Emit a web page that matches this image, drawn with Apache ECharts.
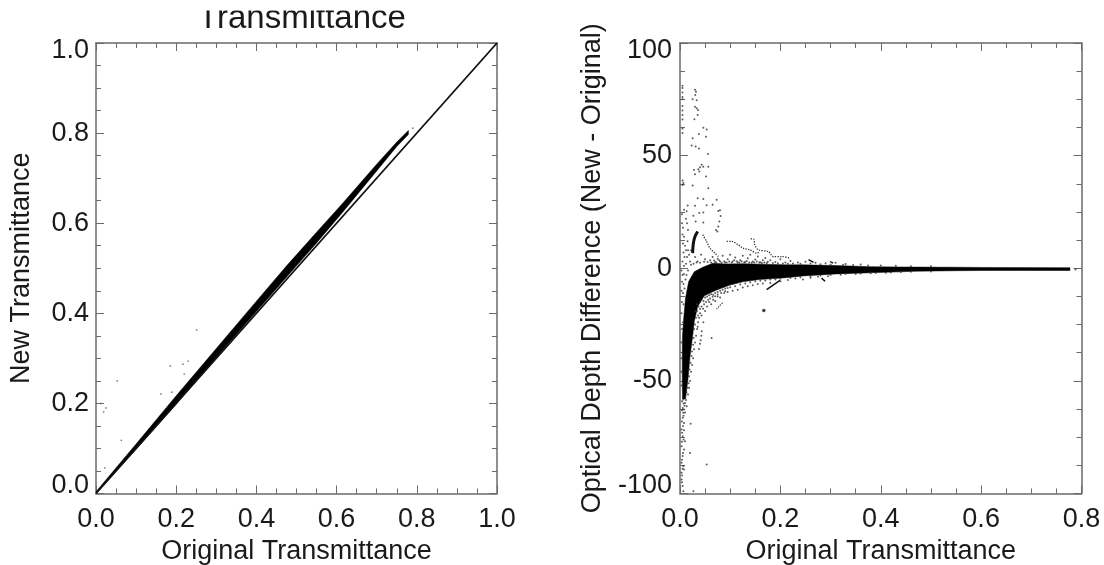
<!DOCTYPE html>
<html><head><meta charset="utf-8">
<style>html,body{margin:0;padding:0;background:#fff}#c{width:1104px;height:565px}</style>
<script src="https://cdn.jsdelivr.net/npm/echarts@6/dist/echarts.min.js"></script>
</head><body><div id="c"></div>
<script>
// ---------- left panel data ----------
const leftIdentity = [[0,0],[1,1]];
const leftBandX     = [0,0.1,0.2,0.3,0.4,0.477,0.55,0.613,0.7,0.75,0.779];
const leftBandUpper = [0.004,0.11,0.217,0.322,0.427,0.507,0.58,0.642,0.731,0.78,0.806];
const leftBandLower = [0,0.098,0.198,0.302,0.404,0.482,0.556,0.622,0.716,0.77,0.797];
const leftOutliers = [[0.251,0.363],[0.23,0.294],[0.217,0.287],[0.185,0.283],[0.22,0.265],[0.189,0.225],[0.162,0.221],[0.053,0.25],[0.025,0.19],[0.019,0.181],[0.012,0.2],[0.063,0.118],[0.022,0.057],[0.79,0.811]];
// ---------- right panel data ----------
const blobUpper = [[0.005,-58],[0.0045,-48],[0.0045,-38],[0.005,-30],[0.0075,-22],[0.011,-13.2],[0.0173,-5.9],[0.0285,-1.5],[0.0452,0.4],[0.0651,2.2],[0.0916,1.9],[0.125,2],[0.165,1.8],[0.211,1.5],[0.245,1.5],[0.312,1.2],[0.379,0.7],[0.438,0.55],[0.471,0.5],[0.551,0.45],[0.604,0.35],[0.777,0.25]];
const blobLower = [[0.777,-1],[0.604,-1],[0.551,-1.1],[0.471,-1.3],[0.438,-1.6],[0.379,-2],[0.312,-2.5],[0.245,-3.4],[0.211,-4.2],[0.158,-5],[0.125,-6],[0.0982,-7.6],[0.0717,-9.8],[0.0484,-12.2],[0.0353,-17],[0.0285,-23.5],[0.0253,-30],[0.02,-39],[0.016,-49],[0.011,-58]];
const upperScatter = [[0.005,81],[0.005,80],[0.005,78],[0.005,76],[0.005,75],[0.005,72],[0.005,70],[0.005,68],[0.005,66],[0.005,62],[0.005,60],[0.005,39],[0.005,37],
[0.0299,79.2],[0.0319,78.4],[0.0305,76.9],[0.0252,75],[0.0332,74.6],[0.0299,71.7],[0.0332,71],[0.0359,70.2],[0.0352,68],[0.0286,66.2],
[0.0465,62.4],[0.0531,61.6],[0.0518,58.4],[0.0378,59.6],[0.0252,57.7],[0.0232,54.5],[0.0312,54],[0.0378,53.2],[0.0558,50.7],
[0.0432,45.9],[0.0398,44.8],[0.0365,43.9],[0.0465,45.1],[0.0279,43.6],[0.0299,41.7],[0.0385,42.9],[0.0564,45.1],[0.0518,40.7],[0.0564,35.5],[0.0252,36.7],[0.0066,37.8],
[0.0352,31.1],[0.0465,30.7],[0.073,30.4],[0.0299,27.7],[0.0531,28],[0.0651,28.2],[0.0797,25.7],[0.0764,25.4],[0.0465,24.8],[0.0385,24.5],[0.0266,23.3],[0.0153,27.9],[0.0133,25.3],[0.081,23.2],[0.0784,20.7],[0.0764,18.5],[0.0717,17],[0.0744,16.3],[0.0465,20.3],[0.0312,20.7]];
const leftColumnFringe = [[0.004,20],[0.006,18],[0.005,15],[0.008,14],[0.006,11],[0.01,10],[0.012,8],[0.007,7],[0.009,5],[0.015,12],[0.016,8],[0.014,5],[0.018,6],[0.02,3],[0.005,3],[0.008,1],[0.012,2],[0.016,17],[0.014,20],[0.012,22],[0.004,24],[0.008,26],[0.022,8],[0.03,5],[0.035,3],[0.042,6],[0.05,4],
[0.003,-1],[0.005,-3],[0.008,-2.5],[0.004,-6],[0.007,-7],[0.011,-5],[0.003,-10],[0.006,-11],[0.009,-9],[0.013,-3],[0.016,-1],[0.022,1.5],[0.027,2],[0.033,2.6],[0.04,2.4],[0.048,2.9],[0.004,-15],[0.007,-16],[0.003,-20],[0.006,-24],[0.004,-27],[0.003,-33],[0.003,-40],[0.003,-46],[0.003,-52]];
const aboveBlobFringe = [[0.06,3.5],[0.065,5],[0.07,2.8],[0.075,4.2],[0.08,3],[0.085,5.5],[0.09,2.5],[0.095,4],[0.1,6],[0.105,3],[0.11,4.8],[0.115,2.6],[0.12,3.6],[0.125,5.5],[0.13,2.8],[0.135,4.4],[0.14,6],[0.145,3],[0.15,3.9],[0.155,5.2],[0.16,2.7],[0.165,3.6],[0.17,4.6],[0.175,2.9],[0.18,3.5],[0.19,2.8],[0.2,4],[0.21,2.6],[0.22,3.2],[0.235,2.6],[0.25,2.9],[0.27,2.4],[0.29,2.2],[0.31,2.4],[0.33,1.9],[0.36,1.7],
[0.055,2.8],[0.062,2.6],[0.068,3.4],[0.072,2.5],[0.078,3.5],[0.083,2.4],[0.088,3.1],[0.093,2.6],[0.098,3],[0.103,2.5],[0.108,3.6],[0.113,3.1],[0.118,2.5],[0.123,3],[0.128,2.5],[0.133,3.2],[0.138,2.5],[0.143,2.4],[0.148,2.6],[0.153,3],[0.158,2.5],[0.163,2.3],[0.168,2.5],[0.173,2.3],[0.185,2.3],[0.195,2.2],[0.205,2.1],[0.215,2],[0.225,2.1],[0.24,2],[0.26,2.1],[0.28,1.8],[0.3,1.7],[0.325,1.5],[0.345,1.4],[0.375,1.2],[0.4,1.2],[0.43,1.1],[0.46,0.9],[0.5,0.9]];
const belowBlobFringe = [[0.032,-30],[0.034,-27],[0.036,-24],[0.03,-33],[0.028,-36],[0.026,-40],[0.024,-43],[0.022,-46],[0.02,-50],[0.018,-53],[0.016,-56],[0.038,-22],[0.04,-20],[0.043,-21],[0.046,-18],[0.05,-19],[0.054,-17],[0.058,-15],[0.062,-16],[0.066,-14],[0.07,-14.5],[0.075,-12.5],[0.08,-13],[0.088,-11],[0.095,-10.5],[0.105,-10],[0.115,-9.5],[0.125,-8.5],[0.135,-8],[0.145,-7.6],[0.155,-7],[0.165,-6.8],[0.18,-6.5],[0.2,-5.8],[0.215,-5.2],[0.23,-4.6],[0.245,-5],[0.26,-4.2],[0.275,-3.8],[0.295,-3.5],[0.32,-2.9],[0.35,-2.6],[0.38,-2.2],[0.41,-2],[0.44,-1.7],
[0.0432,-28],[0.0425,-30],[0.0412,-32],[0.0398,-33.5],[0.0378,-35.8],[0.0352,-26],[0.0465,-24],[0.063,-31],[0.788,-0.5],
[0.03,-25],[0.032,-22],[0.034,-19],[0.037,-17],[0.04,-15],[0.043,-14],[0.047,-14.5],[0.05,-13],[0.054,-12.5],[0.058,-12],[0.062,-11.5],[0.066,-11.8],[0.07,-11],[0.075,-10.5],[0.08,-10],[0.085,-9.5],[0.09,-9],[0.095,-8.8],[0.1,-8.4],[0.11,-8],[0.12,-7.2],[0.13,-6.8],[0.14,-6.2],[0.15,-5.8],[0.16,-5.6],[0.17,-5.4],[0.18,-5],[0.19,-5],[0.2,-4.7],[0.22,-4.3],[0.24,-4],[0.26,-3.6],[0.28,-3.2],[0.3,-3],[0.33,-2.6],[0.36,-2.3],[0.39,-2.1],[0.42,-1.9],[0.46,-1.6],[0.5,-1.4],
[0.028,-27],[0.027,-31],[0.026,-34],[0.024,-37],[0.023,-39],[0.021,-42],[0.019,-45],[0.018,-48],[0.017,-51],[0.015,-53],[0.013,-55],[0.031,-19],[0.034,-16],[0.036,-21],[0.04,-18],[0.043,-17],[0.048,-16],[0.052,-15],[0.056,-14],[0.06,-13.4],[0.065,-12.6],[0.07,-12.4],[0.075,-11.6],[0.082,-11],[0.09,-10.2]];
const tailScatter = [[0.0066,-58.3],[0.01,-59.8],[0.0053,-62],[0.008,-62.7],[0.0133,-61.3],[0.0066,-64.2],[0.0053,-66.4],[0.008,-68.7],[0.0033,-71.6],[0.008,-71.9],[0.0053,-74.6],[0.01,-76.8],[0.0033,-79],[0.008,-80.5],[0.0053,-83.4],[0.0033,-86.4],[0.0066,-87.9],[0.0033,-90.8],[0.008,-89.4],[0.0033,-93.8],[0.0053,-96.7],[0.0066,-99],[0.0212,-69],[0.0199,-82],[0.0531,-87.1],[0.0266,-99],
[0.004,-59],[0.007,-60],[0.009,-61],[0.012,-58.5],[0.004,-63],[0.007,-65.5],[0.01,-64],[0.004,-68],[0.006,-70],[0.004,-73],[0.007,-76],[0.004,-77],[0.006,-82],[0.004,-85],[0.005,-89],[0.004,-92],[0.004,-95]];
const darkArc = [[0.0352,16.3],[0.0299,14.1],[0.0266,11.1],[0.0252,6.7]];
const thinArcA = [[0.0452,14.9],[0.0531,11.9],[0.0598,8.9],[0.0697,6.7],[0.0764,5.2]];
const thinArcB = [[0.093,11.9],[0.103,11.9],[0.116,10.4],[0.126,8.9],[0.139,8.2],[0.153,6.7],[0.159,7.4]];
const thinArcC = [[0.141,13.1],[0.147,12.9],[0.149,10.4],[0.156,8.2],[0.176,7.4],[0.186,5.2],[0.203,5.2],[0.219,4.5]];
const thinArcD = [[0.256,3.8],[0.266,2.6]];
const thinArcE = [[0.299,3],[0.305,2.3]];
const lowArcA = [[0.1726,-9.5],[0.1992,-5.4]];
const lowArcB = [[0.282,-4.4],[0.289,-5.8]];
const lowArcC = [[0.073,-18.1],[0.086,-15]];
const isolatedDot = [[0.167,-18.8]];
// ---------- tick labels / text ----------
const titleText = 'Transmittance';
const xName = 'Original Transmittance';
const yNameLeft = 'New Transmittance';
const yNameRight = 'Optical Depth Difference (New - Original)';

const FONT = '"Liberation Sans", Arial, sans-serif';
const INK = '#1a1a1a', AXIS = '#6a6a6a', FS = 27;

function axisBase(extra){
  return Object.assign({
    type:'value', splitLine:{show:false}, splitNumber:4,
    axisLine:{show:true,onZero:false,lineStyle:{color:AXIS,width:1.5}},
    axisTick:{show:true,inside:true,length:8,lineStyle:{color:AXIS,width:1}},
    minorTick:{show:true,splitNumber:4,length:5,lineStyle:{color:AXIS,width:1}},
    nameTextStyle:{color:INK,fontFamily:FONT,fontSize:FS},
    nameLocation:'middle'
  },extra);
}
function labels(extra){return Object.assign({show:true,color:INK,fontFamily:FONT,fontSize:FS},extra);}
function ylabels(extra){return labels(Object.assign({lineHeight:16,verticalAlignMaxLabel:'top',verticalAlignMinLabel:'bottom'},extra));}
function polySeries(points,x,y){
  return {type:'custom',xAxisIndex:x,yAxisIndex:y,data:points,clip:true,silent:true,
    renderItem(params,api){
      if(params.dataIndex!==0) return null;
      return {type:'polygon',shape:{points:points.map(p=>api.coord(p))},style:{fill:'#000',stroke:'#000',lineWidth:0.5}};
    }};
}
function dots(data,size,color){return {type:'scatter',xAxisIndex:2,yAxisIndex:2,data,symbolSize:size||2,itemStyle:{color:color||'#333'},silent:true};}
function curve(data,w,type,color){return {type:'line',xAxisIndex:2,yAxisIndex:2,data,symbol:'none',smooth:0.3,lineStyle:{color:color||'#111',width:w||1,type:type||'solid'},silent:true};}

const leftBand = leftBandX.map((x,i)=>[x,leftBandUpper[i]]).concat(leftBandX.map((x,i)=>[x,leftBandLower[i]]).reverse());
const rightBlob = blobUpper.concat(blobLower);

const chart = echarts.init(document.getElementById('c'),null,{renderer:'canvas'});
const G1={left:96,right:607,top:43,bottom:71.5,outerBoundsMode:'none'}, G2={left:680,right:22.5,top:43,bottom:71.5,outerBoundsMode:'none'};
chart.setOption({
  animation:false, backgroundColor:'#fff',
  title:{text:titleText,left:297,top:-3,textAlign:'center',textStyle:{color:INK,fontFamily:FONT,fontSize:33,fontWeight:'normal'}},
  graphic:[{type:'rect',z:1000,left:170,top:0,shape:{width:260,height:10.5},style:{fill:'#fff'}}],
  grid:[G1,G2],
  xAxis:[
    axisBase({gridIndex:0,min:0,max:1,interval:0.2,position:'bottom',name:xName,nameGap:40,axisLabel:labels({margin:13,formatter:v=>v.toFixed(1)})}),
    axisBase({gridIndex:0,min:0,max:1,interval:0.2,position:'top',axisLabel:{show:false}}),
    axisBase({gridIndex:1,min:0,max:0.8,interval:0.2,position:'bottom',name:xName,nameGap:40,axisLabel:labels({margin:13,formatter:v=>v.toFixed(1)})}),
    axisBase({gridIndex:1,min:0,max:0.8,interval:0.2,position:'top',axisLabel:{show:false}})
  ],
  yAxis:[
    axisBase({gridIndex:0,min:0,max:1,interval:0.2,position:'left',name:yNameLeft,nameGap:61,axisLabel:ylabels({margin:7,formatter:v=>v.toFixed(1)})}),
    axisBase({gridIndex:0,min:0,max:1,interval:0.2,position:'right',axisLabel:{show:false}}),
    axisBase({gridIndex:1,min:-100,max:100,interval:50,position:'left',name:yNameRight,nameGap:74,axisLabel:ylabels({margin:8})}),
    axisBase({gridIndex:1,min:-100,max:100,interval:50,position:'right',axisLabel:{show:false}})
  ],
  series:[
    {type:'line',xAxisIndex:0,yAxisIndex:0,data:leftIdentity,symbol:'none',lineStyle:{color:'#111',width:1.8},silent:true},
    polySeries(leftBand,0,0),
    {type:'scatter',xAxisIndex:0,yAxisIndex:0,data:leftOutliers,symbolSize:1.8,itemStyle:{color:'#666'},silent:true},
    polySeries(rightBlob,2,2),
    dots(upperScatter),dots(leftColumnFringe),dots(aboveBlobFringe),dots(belowBlobFringe),dots(tailScatter),
    dots(isolatedDot,3.5,'#111'),
    curve(darkArc,3),curve(thinArcA,1.3,'dotted','#333'),curve(thinArcB,1.3,'dotted','#333'),curve(thinArcC,1.3,'dotted','#333'),curve(thinArcD,1.3),curve(thinArcE,1.3),
    curve(lowArcA,1.5),curve(lowArcB,1.5),curve(lowArcC,1.2,'dotted','#333')
  ]
});
</script></body></html>
